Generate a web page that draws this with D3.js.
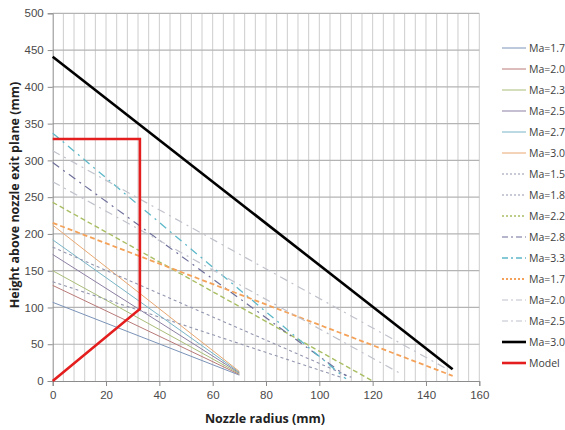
<!DOCTYPE html>
<html>
<head>
<meta charset="utf-8">
<script src="https://cdn.jsdelivr.net/npm/d3@7"></script>
<style>
  body { margin: 0; background: #fff; }
  svg { display: block; font-family: "Open Sans", "Noto Sans", sans-serif; }
</style>
</head>
<body>
<svg id="chart" width="565" height="430"></svg>
<script>
// series, in legend order: [radius mm, height mm] endpoints
let labels = ["Ma=1.7", "Ma=2.0", "Ma=2.3", "Ma=2.5", "Ma=2.7", "Ma=3.0",
    "Ma=1.5", "Ma=1.8", "Ma=2.2", "Ma=2.8", "Ma=3.3",
    "Ma=1.7", "Ma=2.0", "Ma=2.5", "Ma=3.0", "Model"];

let solid17 = [[0, 107], [70, 8]];
let solid20 = [[0, 130], [70, 9]];
let solid23 = [[0, 150], [70, 10]];
let solid25 = [[0, 172], [70, 11]];
let solid27 = [[0, 192], [70, 12]];
let solid30 = [[0, 212], [70, 13]];
let dash15 = [[0, 135], [109, 4]];
let dash18 = [[0, 182], [112, 5]];
let dash22 = [[0, 243], [120, 0]];
let dashDot28 = [[0, 297], [110, 7]];
let dashDot33 = [[0, 337], [110, 3]];
let dash17 = [[0, 215], [150, 7]];
let dashDot20 = [[0, 271], [130, 11]];
let dashDot25 = [[0, 313], [148, 16]];
let thick30 = [[0, 441], [150, 16]];
let model = [[0, 0], [32.7, 98], [32.7, 329], [0, 329]];

let xTicks = d3.range(0, 161, 20);
let yTicks = d3.range(0, 501, 50);

let series = [solid17, solid20, solid23, solid25, solid27, solid30,
    dash15, dash18, dash22, dashDot28, dashDot33,
    dash17, dashDot20, dashDot25, thick30, model];

// stroke styles per series
let styles = [
    {c: "#7b93b8", w: 1}, {c: "#b87a78", w: 1}, {c: "#a9bd78", w: 1},
    {c: "#8d7fa3", w: 1}, {c: "#78b4c6", w: 1}, {c: "#e8a770", w: 1},
    {c: "#9296ae", w: 1.1, d: "3,3"}, {c: "#9296ae", w: 1.1, d: "3,3"},
    {c: "#a8be62", w: 1.4, d: "5,3"}, {c: "#6d6f9a", w: 1.2, d: "8,5,2,5"},
    {c: "#5cb8c8", w: 1.3, d: "8,5,2,5"},
    {c: "#f4a259", w: 1.8, d: "5,3"}, {c: "#c0c2cc", w: 1.2, d: "8,5,2,5"},
    {c: "#c0c2cc", w: 1.2, d: "8,5,2,5"},
    {c: "#000000", w: 2.6}, {c: "#e41e1e", w: 2.6}
];

let svg = d3.select("#chart");

let x = d3.scaleLinear().domain([0, 160]).range([52.7, 479.3]);
let y = d3.scaleLinear().domain([0, 500]).range([381, 13.3]);

// vertical grid every 4 mm
svg.append("g")
    .selectAll("line")
    .data(d3.range(4, 161, 4))
    .enter().append("line")
    .attr("x1", d => x(d)).attr("x2", d => x(d))
    .attr("y1", y(0)).attr("y2", y(500))
    .attr("stroke", "#cdcdcd").attr("stroke-width", 1);

// horizontal grid
svg.append("g")
    .selectAll("line")
    .data(yTicks.filter(v => v > 0))
    .enter().append("line")
    .attr("x1", x(0)).attr("x2", x(160))
    .attr("y1", d => y(d)).attr("y2", d => y(d))
    .attr("stroke", "#b4b4b4").attr("stroke-width", 1.2);

let xAxis = svg.append("g")
    .attr("transform", `translate(0,${y(0)})`)
    .call(d3.axisBottom(x).tickValues(xTicks).tickSize(5).tickPadding(5));
let yAxis = svg.append("g")
    .attr("transform", `translate(${x(0)},0)`)
    .call(d3.axisLeft(y).tickValues(yTicks).tickSize(5).tickPadding(4));

[xAxis, yAxis].forEach(a => {
    a.select(".domain").attr("stroke", "#8c8c8c");
    a.selectAll(".tick line").attr("stroke", "#8c8c8c");
    a.selectAll("text").attr("fill", "#4a4a4a").attr("font-size", 11.5);
});

let line = d3.line().x(d => x(d[0])).y(d => y(d[1]));

svg.append("g")
    .selectAll("path")
    .data(series)
    .enter().append("path")
    .attr("d", line)
    .attr("fill", "none")
    .attr("stroke", (d, i) => styles[i].c)
    .attr("stroke-width", (d, i) => styles[i].w)
    .attr("stroke-dasharray", (d, i) => styles[i].d || null);

// axis titles
svg.append("text")
    .attr("x", 265).attr("y", 423)
    .attr("text-anchor", "middle")
    .attr("font-size", 12.5).attr("font-weight", "bold")
    .attr("fill", "#222")
    .text("Nozzle radius (mm)");

svg.append("text")
    .attr("transform", "translate(19,195) rotate(-90)")
    .attr("text-anchor", "middle")
    .attr("font-size", 12.5).attr("font-weight", "bold")
    .attr("fill", "#222")
    .text("Height above nozzle exit plane (mm)");

// legend
let legend = svg.append("g")
    .selectAll("g")
    .data(labels)
    .enter().append("g")
    .attr("transform", (d, i) => `translate(502,${48 + i * 21})`);

legend.append("line")
    .attr("x1", 0).attr("x2", 24)
    .attr("stroke", (d, i) => styles[i].c)
    .attr("stroke-width", (d, i) => Math.min(styles[i].w, 2.6))
    .attr("stroke-dasharray", (d, i) => styles[i].d ? (styles[i].d === "8,5,2,5" ? "6,3,2,3" : "2,2") : null);

legend.append("text")
    .attr("x", 27).attr("y", 4)
    .attr("font-size", 10.5)
    .attr("fill", "#404040")
    .text(d => d);
</script>
</body>
</html>
